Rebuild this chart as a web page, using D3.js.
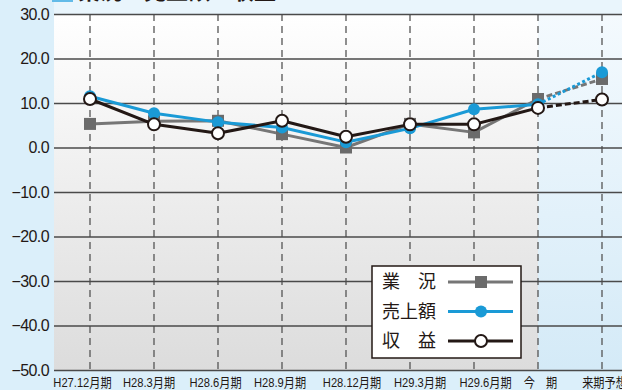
<!DOCTYPE html>
<html lang="ja">
<head>
<meta charset="utf-8">
<script src="https://cdn.jsdelivr.net/npm/d3@7"></script>
<style>
  html, body { margin: 0; padding: 0; background: #dbeffa; }
  svg { display: block; }
</style>
</head>
<body>
<svg id="chart" width="622" height="390"></svg>
<script>
// Periods along the x axis
const periods = ["H27.12月期", "H28.3月期", "H28.6月期", "H28.9月期", "H28.12月期",
                 "H29.3月期", "H29.6月期", "今　期", "来期予想"];

// Diffusion indices per period
const gyokyo   = [5.3, 5.9, 6.0, 3.0, 0.0, 5.3, 3.4, 10.9, 15.4];   // 業況
const uriage   = [11.5, 7.7, 5.7, 4.5, 1.2, 4.3, 8.6, 9.7, 16.9];   // 売上額
const shueki   = [10.9, 5.2, 3.2, 6.0, 2.4, 5.2, 5.2, 8.9, 10.8];   // 収益

const yTicks = [30, 20, 10, 0, -10, -20, -30, -40, -50];
const seriesNames = ["業　況", "売上額", "収　益"];
const titleText = "業況・売上額・収益";

// ---- layout ----
const W = 622, H = 390;
const plot = { left: 54, right: 622, top: 14, bottom: 370 };
const forecastFrom = 7;                       // index of 今期: shaded from here on
const labelNudge = [-8, -5.5, -3, -2.5, 5.5, 9.5, 11, 2, 2];
const labelSqueeze = 0.86;

const svg = d3.select("#chart");

const x = d3.scalePoint().domain(periods).range([90, 602]);
const y = d3.scaleLinear().domain([-50, 30]).range([plot.bottom, plot.top]);

const defs = svg.append("defs");
const gGray = defs.append("linearGradient").attr("id", "gGray").attr("x1", 0).attr("y1", 0).attr("x2", 0).attr("y2", 1);
gGray.append("stop").attr("offset", "0%").attr("stop-color", "#ffffff");
gGray.append("stop").attr("offset", "100%").attr("stop-color", "#dcdcdc");
const gBlue = defs.append("linearGradient").attr("id", "gBlue").attr("x1", 0).attr("y1", 0).attr("x2", 0).attr("y2", 1);
gBlue.append("stop").attr("offset", "0%").attr("stop-color", "#f4fafe");
gBlue.append("stop").attr("offset", "100%").attr("stop-color", "#d4eaf7");

// backdrop strip above the plot
svg.append("rect").attr("x", plot.left).attr("y", 0).attr("width", W - plot.left).attr("height", plot.top)
  .attr("fill", "#e9f5fc");

// title (sits mostly above the visible area)
svg.append("rect").attr("x", 52).attr("y", -19).attr("width", 21).attr("height", 21).attr("fill", "#63bbe8");
svg.append("text").attr("x", 78).attr("y", -1)
  .attr("font-family", "'Noto Sans CJK JP', sans-serif").attr("font-weight", "bold")
  .attr("font-size", 22).attr("fill", "#231815").text(titleText);

// plot background: actual periods and forecast zone
const splitX = x(periods[forecastFrom]);
svg.append("rect").attr("x", plot.left).attr("y", plot.top)
  .attr("width", splitX - plot.left).attr("height", plot.bottom - plot.top).attr("fill", "url(#gGray)");
svg.append("rect").attr("x", splitX).attr("y", plot.top)
  .attr("width", plot.right - splitX).attr("height", plot.bottom - plot.top).attr("fill", "url(#gBlue)");

// vertical dashed guides
svg.append("g").selectAll("line").data(periods).join("line")
  .attr("x1", d => x(d)).attr("x2", d => x(d))
  .attr("y1", plot.top).attr("y2", plot.bottom)
  .attr("stroke", "#555").attr("stroke-width", 1.3).attr("stroke-dasharray", "7,5");

// horizontal grid + y labels via axis
const yAxis = d3.axisLeft(y).tickValues(yTicks).tickSize(0).tickPadding(5)
  .tickFormat(d => (d < 0 ? "\u2212" + Math.abs(d).toFixed(1) : d.toFixed(1)));
const ya = svg.append("g").attr("transform", `translate(${plot.left},0)`).call(yAxis);
ya.select(".domain").remove();
ya.selectAll(".tick text")
  .attr("font-family", "'Liberation Sans', Arial, sans-serif").attr("font-size", 16)
  .attr("letter-spacing", "-0.6").attr("fill", "#231815");
ya.selectAll(".tick").append("line")
  .attr("x1", 0).attr("x2", plot.right - plot.left)
  .attr("stroke", "#4a4a4a").attr("stroke-width", 1.5);

// x labels (horizontally condensed)
const xAxis = d3.axisBottom(x).tickSize(0).tickPadding(8);
const xa = svg.append("g").attr("transform", `translate(0,${plot.bottom})`).call(xAxis);
xa.select(".domain").remove();
xa.selectAll(".tick text")
  .attr("transform", (d, i) => `translate(${labelNudge[i]},0) scale(${labelSqueeze},1)`)
  .attr("font-family", "'Liberation Sans', 'Noto Sans CJK JP', sans-serif")
  .attr("font-size", 13).attr("fill", "#231815");

// series
const series = [
  { name: seriesNames[0], values: gyokyo, color: "#767676", dash: "6,3", marker: "square" },
  { name: seriesNames[1], values: uriage, color: "#1a9ad6", dash: "3,2.5", marker: "dot" },
  { name: seriesNames[2], values: shueki, color: "#231815", dash: "6,3", marker: "ring" }
];

const line = d3.line().x(d => x(d.p)).y(d => y(d.v));

function drawMarker(g, kind, cx, cy) {
  if (kind === "square") {
    g.append("rect").attr("x", cx - 6).attr("y", cy - 6).attr("width", 12).attr("height", 12).attr("fill", "#6b6b6b");
  } else if (kind === "dot") {
    g.append("circle").attr("cx", cx).attr("cy", cy).attr("r", 6).attr("fill", "#1a9ad6");
  } else {
    g.append("circle").attr("cx", cx).attr("cy", cy).attr("r", 6).attr("fill", "#fff")
      .attr("stroke", "#231815").attr("stroke-width", 2);
  }
}

series.forEach(s => {
  const pts = s.values.map((v, i) => ({ p: periods[i], v }));
  const g = svg.append("g");
  g.append("path").datum(pts.slice(0, forecastFrom + 1)).attr("d", line)
    .attr("fill", "none").attr("stroke", s.color).attr("stroke-width", 3).attr("stroke-linejoin", "round");
  g.append("path").datum(pts.slice(forecastFrom)).attr("d", line)
    .attr("fill", "none").attr("stroke", s.color).attr("stroke-width", 3).attr("stroke-dasharray", s.dash);
  pts.forEach(d => drawMarker(g, s.marker, x(d.p), y(d.v)));
});

// legend
const lg = svg.append("g").attr("transform", "translate(372,266)");
lg.append("rect").attr("x", 0).attr("y", 0).attr("width", 149).attr("height", 92)
  .attr("fill", "#fff").attr("stroke", "#231815").attr("stroke-width", 1.5);
series.forEach((s, i) => {
  const cy = 16 + i * 29.5;
  lg.append("text").attr("x", 10).attr("y", cy + 6)
    .attr("font-family", "'Noto Sans CJK JP', sans-serif").attr("font-size", 18)
    .attr("fill", "#231815").text(s.name);
  lg.append("line").attr("x1", 76).attr("x2", 141).attr("y1", cy).attr("y2", cy)
    .attr("stroke", s.color).attr("stroke-width", 3);
  drawMarker(lg, s.marker, 109, cy);
});
</script>
</body>
</html>
